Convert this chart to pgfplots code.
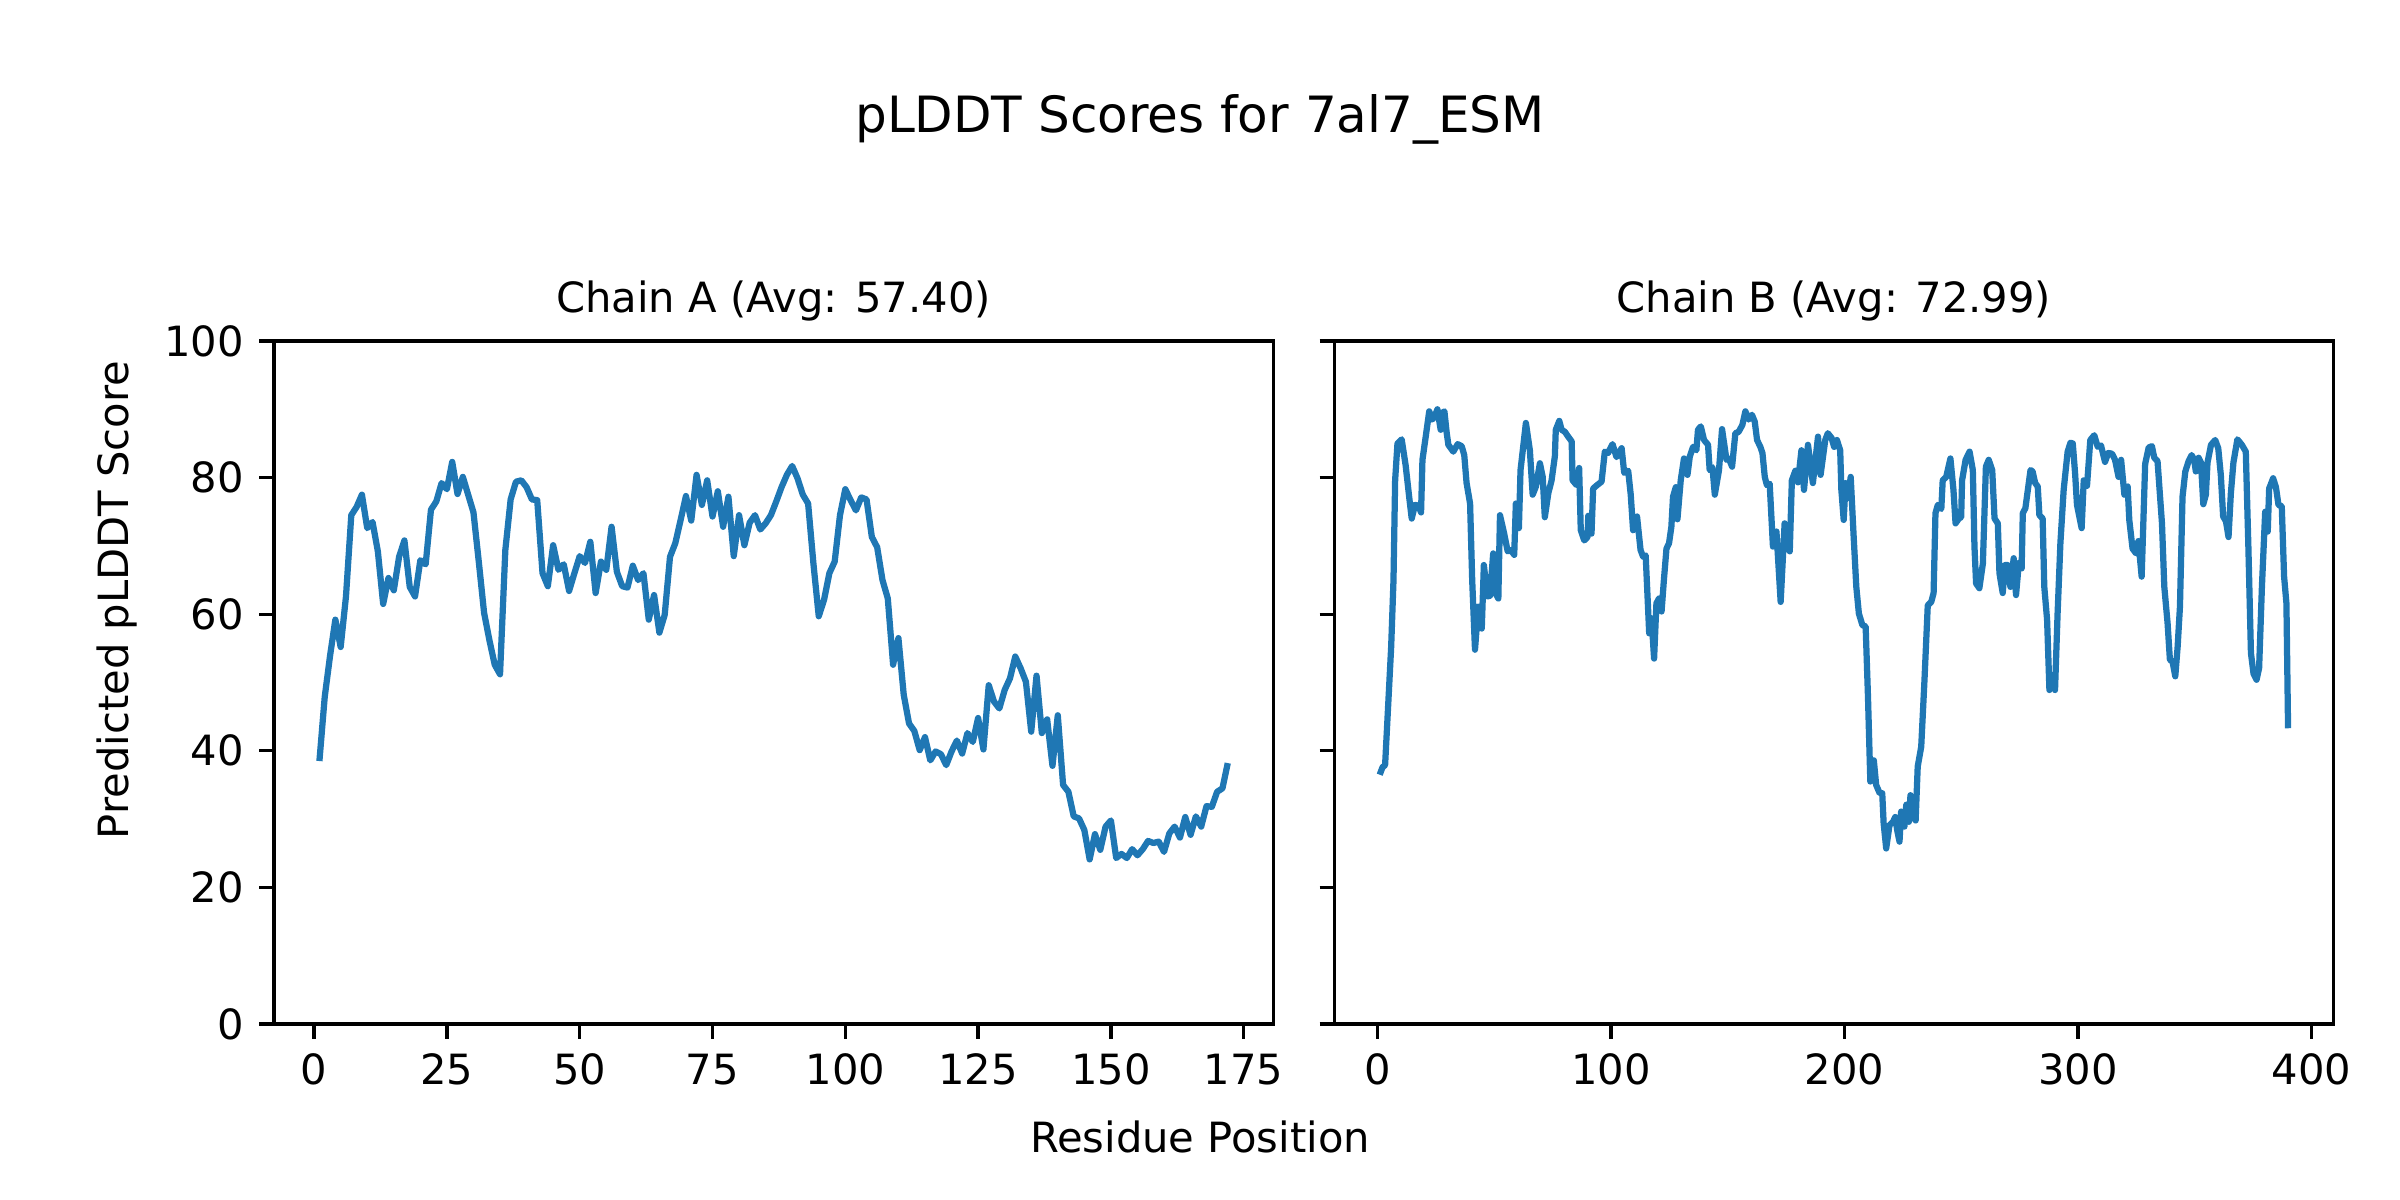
\documentclass[border=0pt]{standalone}
\usepackage{pgfplots}
\pgfplotsset{compat=1.18}
\usepackage{fontspec}
\setmainfont{DejaVu Sans}
\definecolor{mplblue}{HTML}{1F77B4}
\begin{document}
\begin{tikzpicture}
\path[use as bounding box] (0,0) rectangle (576bp,288bp);
\pgfplotsset{
  mystyle/.style={
    anchor=south west, scale only axis, width=239.8bp, height=163.92bp,
    ymin=0, ymax=100, ytick={0,20,40,60,80,100},
    tick align=outside, major tick length=3.5bp, tick pos=left,
    major tick style={line width=0.8bp, black},
    axis line style={line width=0.8bp},
    tick label style={font=\fontsize{10bp}{12bp}\selectfont},
    xticklabel style={inner sep=0pt, yshift=-3.5bp},
    yticklabel style={inner sep=0pt, xshift=-3.5bp},
    /pgf/number format/assume math mode=true,
    every axis title shift=0pt,
    title style={at={(0.5,1)}, anchor=base, yshift=6.8bp, inner sep=0pt, font=\fontsize{10bp}{12bp}\selectfont},
  }
}
\begin{axis}[mystyle, at={(65.76bp,42.24bp)},
  xmin=-7.55, xmax=180.55, xtick={0,25,50,75,100,125,150,175},
  title={Chain A (Avg: 57.40)}]
\addplot[mplblue, line width=1.5bp, line join=round] table {
x y
1 38.5
2 47.9
3 53.9
4 59.2
5 55.2
6 62.6
7 74.5
8 75.7
9 77.5
10 72.6
11 73.5
12 69.2
13 61.5
14 65.3
15 63.5
16 68.4
17 70.8
18 64.0
19 62.6
20 67.9
21 67.3
22 75.3
23 76.5
24 79.2
25 78.3
26 82.3
27 77.6
28 80.1
29 77.5
30 74.9
31 67.7
32 60.2
33 56.2
34 52.6
35 51.2
36 69.4
37 76.8
38 79.4
39 79.6
40 78.6
41 76.8
42 76.7
43 66.0
44 64.1
45 70.1
46 66.5
47 67.3
48 63.4
49 66.0
50 68.5
51 67.5
52 70.6
53 63.1
54 67.7
55 66.5
56 72.8
57 66.2
58 64.1
59 63.9
60 67.1
61 65.0
62 66.0
63 59.2
64 62.8
65 57.3
66 59.9
67 68.4
68 70.4
69 73.8
70 77.3
71 73.7
72 80.4
73 76.0
74 79.6
75 74.3
76 78.0
77 72.8
78 77.2
79 68.5
80 74.5
81 70.1
82 73.4
83 74.5
84 72.4
85 73.3
86 74.5
87 76.5
88 78.6
89 80.4
90 81.7
91 79.9
92 77.5
93 76.2
94 67.4
95 59.7
96 62.1
97 66.0
98 67.7
99 74.5
100 78.3
101 76.7
102 75.2
103 77.1
104 76.8
105 71.3
106 69.8
107 65.0
108 62.3
109 52.6
110 56.5
111 48.2
112 44.0
113 42.9
114 40.1
115 42.0
116 38.6
117 39.9
118 39.5
119 37.9
120 39.9
121 41.5
122 39.6
123 42.6
124 41.3
125 44.8
126 40.2
127 49.6
128 47.2
129 46.2
130 48.9
131 50.6
132 53.8
133 52.1
134 50.1
135 42.8
136 51.0
137 42.6
138 44.6
139 37.8
140 45.2
141 35.0
142 34.0
143 30.4
144 30.1
145 28.4
146 24.1
147 27.8
148 25.5
149 28.9
150 29.8
151 24.3
152 24.9
153 24.3
154 25.6
155 24.7
156 25.6
157 26.8
158 26.5
159 26.7
160 25.2
161 27.9
162 28.9
163 27.3
164 30.3
165 27.7
166 30.4
167 28.9
168 31.9
169 31.8
170 34.0
171 34.5
172 38.2
};
\end{axis}
\begin{axis}[mystyle, at={(320.23bp,42.24bp)},
  xmin=-18.45, xmax=409.45, xtick={0,100,200,300,400}, yticklabels={},
  title={Chain B (Avg: 72.99)}]
\addplot[mplblue, line width=1.5bp, line join=round] table {
x y
1 36.5
2.2 37.6
3.3 37.9
4.7 47.2
5.9 55.2
6.9 65.0
7.6 79.6
8.6 85.0
10.4 85.6
12.1 81.8
13.6 77.2
14.7 74.0
16.1 76.0
17.6 75.9
18.7 74.9
19.3 82.6
20.7 86.0
22.2 89.7
23.5 88.5
24.6 89.0
25.7 90.0
27.1 87.0
27.9 89.5
28.7 89.7
29.7 86.5
30.4 84.8
32.5 83.8
34.4 84.9
36.1 84.6
37.2 83.3
38.2 79.2
39.7 76.2
40.6 65.0
41.8 54.8
43.2 61.1
44.7 57.9
45.6 67.2
47.1 62.6
48.2 62.7
49.6 68.9
50.7 63.0
51.8 62.3
52.5 74.5
54.3 71.8
55.8 69.2
57.1 69.4
58.6 68.7
59.3 76.2
60.6 72.6
61.3 81.1
63.6 88.0
65.3 84.0
66.5 77.5
67.9 78.7
69.6 82.1
70.8 80.1
71.7 74.2
73.2 77.7
74.6 79.6
76.0 83.1
76.4 87.0
77.9 88.3
78.9 87.0
80.3 86.7
81.7 86.0
83.2 85.3
83.6 79.6
85.3 78.9
86.4 81.4
87.1 72.3
88.6 70.8
90.0 71.3
90.3 74.4
91.7 71.8
92.4 78.4
94.1 78.9
96.0 79.4
97.4 83.8
98.8 83.6
100.7 84.9
102.4 83.0
104.6 84.3
105.7 80.7
107.4 81.0
108.5 77.5
109.5 72.3
111.2 74.3
112.7 69.4
113.8 68.4
114.9 68.6
116.4 57.2
117.4 59.4
118.5 53.5
119.5 61.6
120.6 62.3
121.7 60.4
122.7 65.0
123.8 69.6
124.9 70.4
125.9 72.8
126.6 77.2
127.8 78.6
128.5 73.9
129.9 79.6
131.3 82.8
132.8 80.4
133.8 83.1
135.2 84.5
136.6 84.0
137.3 87.0
138.5 87.5
139.9 85.5
141.6 84.8
142.3 81.1
143.5 81.5
144.5 77.5
146.3 81.1
147.6 87.1
148.7 84.5
149.5 82.6
150.5 82.8
151.9 81.6
153.3 86.5
154.7 86.7
156.3 87.7
157.6 89.7
159.0 88.5
160.4 89.2
161.6 88.2
162.6 85.5
164.0 84.5
164.9 83.6
165.9 80.1
166.8 78.9
168.0 79.1
169.4 69.9
170.9 72.1
172.7 61.8
174.4 73.3
176.6 69.2
177.5 79.6
179.0 81.0
180.1 79.3
181.6 84.0
182.7 78.2
184.4 84.8
186.5 79.2
188.7 86.0
189.8 80.4
191.8 85.5
192.9 86.5
194.5 85.8
195.6 84.5
196.8 85.5
198.2 84.0
198.7 78.2
199.7 73.8
200.5 79.2
201.5 77.0
202.7 80.1
203.9 71.8
205.1 64.0
206.2 60.1
207.7 58.4
209.1 58.2
210.1 47.9
211.1 35.5
212.6 38.6
213.6 35.0
215.1 33.8
216.2 33.8
216.8 29.4
217.9 25.7
219.3 29.1
220.8 29.6
221.8 30.3
222.6 28.4
223.6 26.7
224.3 31.1
225.7 28.9
226.5 32.1
227.6 29.6
228.3 33.5
229.3 30.8
230.5 29.8
231.4 37.7
232.9 40.6
234.3 50.4
235.7 61.3
237.2 61.8
238.2 63.1
239.0 74.8
240.0 76.0
241.5 75.4
242.1 79.6
243.6 80.1
245.4 82.8
246.7 78.2
247.6 73.3
249.0 74.0
250.0 74.2
250.4 79.6
251.9 82.6
253.6 83.8
255.0 81.1
255.7 69.9
256.4 64.5
257.8 63.8
259.3 67.4
260.6 81.6
261.8 82.6
263.3 81.1
264.3 74.0
265.7 73.3
266.4 66.0
267.8 63.1
268.8 67.2
269.9 67.2
271.1 64.0
272.5 68.2
273.5 62.8
274.7 67.5
275.9 66.7
276.4 74.8
277.5 75.5
279.7 81.1
280.6 80.9
281.7 79.2
282.8 78.7
283.5 74.5
284.9 74.0
285.6 64.0
286.8 59.2
287.8 48.9
288.9 51.1
290.2 48.9
291.3 60.1
292.5 70.4
293.9 78.2
295.6 83.8
296.8 85.1
297.8 85.0
298.8 80.6
299.6 76.0
301.6 72.6
302.5 79.6
303.9 78.8
305.3 85.5
307.0 86.2
308.5 84.5
309.9 84.7
311.6 82.3
313.0 83.6
314.6 83.5
315.9 82.6
317.4 80.1
318.5 82.6
319.9 77.5
321.3 78.7
322.0 73.8
323.4 69.6
324.9 68.9
325.9 70.7
327.3 65.5
328.8 82.0
330.3 84.4
331.7 84.6
332.7 82.9
334.1 82.4
336.0 73.3
337.0 64.0
338.4 58.7
339.4 53.3
340.5 53.1
341.7 50.9
342.7 55.2
343.7 61.1
344.8 77.2
346.0 80.9
347.4 82.4
348.7 83.3
349.8 82.6
350.5 80.9
351.7 82.9
352.7 82.2
353.7 76.1
354.8 77.5
355.5 82.2
357.0 84.8
358.8 85.5
360.1 84.3
361.2 80.4
362.2 74.3
363.4 73.6
364.5 71.3
365.5 77.7
366.6 82.2
368.3 85.6
370.2 84.8
371.9 83.8
373.0 69.9
374.1 54.3
375.2 51.3
376.5 50.4
377.6 52.1
378.8 64.0
380.2 75.0
381.3 72.1
381.9 78.4
383.6 79.9
384.8 78.6
385.9 76.0
387.3 75.8
388.3 65.5
389.3 61.6
390.0 43.3
};
\end{axis}
\node[anchor=base, inner sep=0pt, font=\fontsize{12bp}{14bp}\selectfont] at (288bp,256.1bp) {pLDDT Scores for 7al7\_ESM};
\node[anchor=base, inner sep=0pt, font=\fontsize{10bp}{12bp}\selectfont] at (288bp,11.52bp) {Residue Position};
\node[rotate=90, anchor=north, inner sep=0pt, font=\fontsize{10bp}{12bp}\selectfont] at (23.04bp,144bp) {Predicted pLDDT Score};
\end{tikzpicture}
\end{document}
